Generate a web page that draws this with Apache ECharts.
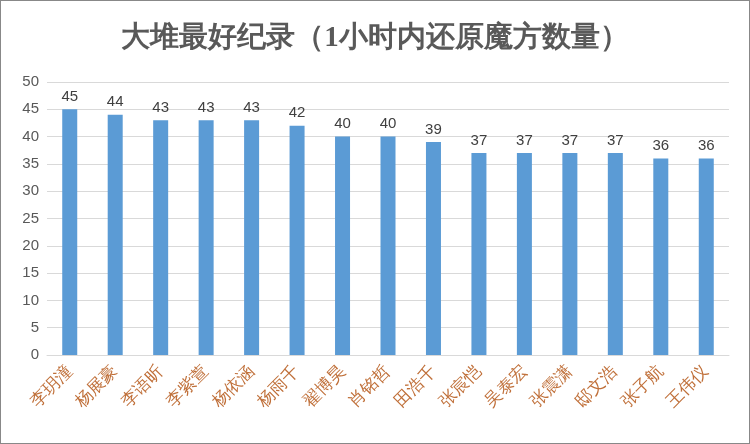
<!DOCTYPE html><html><head><meta charset="utf-8"><script src="https://cdn.jsdelivr.net/npm/echarts@6/dist/echarts.min.js"></script></head><body style="margin:0"><div id="c" style="width:750px;height:444px;box-sizing:border-box;border:1px solid #888"></div><script>
const names=['李玥潼','杨展豪','李语昕','李紫萱','杨依涵','杨雨千','翟博昊','肖铭哲','田浩千','张宸恺','吴泰宏','张震潇','邸文浩','张子航','王伟仪'];
const values=[45,44,43,43,43,42,40,40,39,37,37,37,37,36,36];
const c=echarts.init(document.getElementById('c'));
c.setOption({
title:{text:'大堆最好纪录（1小时内还原魔方数量）',left:'center',top:18,textStyle:{fontFamily:'serif',fontSize:29,fontWeight:'bold',color:'#595959'}},
grid:{left:46,right:20,top:81,bottom:88},
xAxis:{type:'category',data:names,axisTick:{show:false},axisLine:{lineStyle:{color:'#d9d9d9'}},axisLabel:{rotate:45,interval:0,fontFamily:'serif',fontSize:17,color:'#c0703a',margin:14}},
yAxis:{type:'value',min:0,max:50,interval:5,axisLabel:{fontSize:15,color:'#595959',fontFamily:'Liberation Sans'},splitLine:{lineStyle:{color:'#d9d9d9'}}},
series:[{type:'bar',data:values,barWidth:'33%',itemStyle:{color:'#5b9bd5'},label:{show:true,position:'top',fontSize:15,color:'#404040',fontFamily:'Liberation Sans'}}]
});
</script></body></html>
